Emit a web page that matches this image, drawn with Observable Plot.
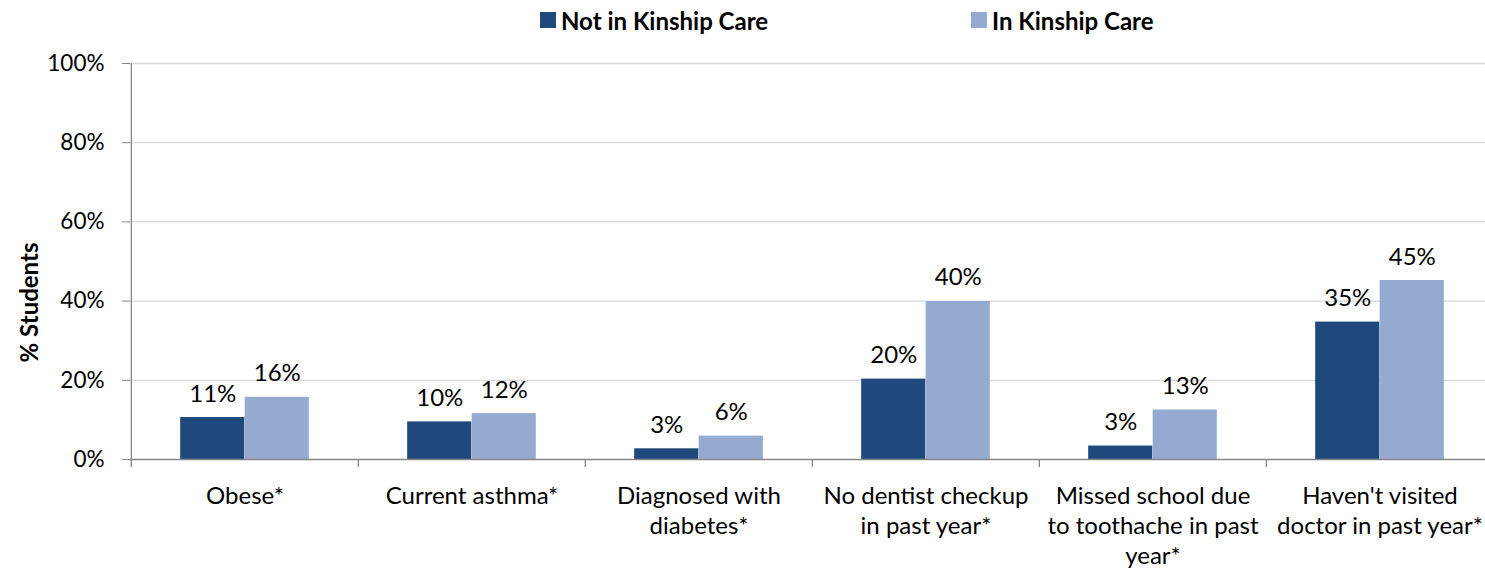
<!DOCTYPE html>
<html>
<head>
<meta charset="utf-8">
<script src="https://cdn.jsdelivr.net/npm/d3@7"></script>
<script src="https://cdn.jsdelivr.net/npm/@observablehq/plot@0.6"></script>
<style>
  html, body { margin: 0; padding: 0; background: #fff; }
  body { width: 1485px; height: 574px; overflow: hidden; font-family: Lato, "Open Sans", sans-serif; }
  #legend { position: relative; height: 40px; width: 1485px; font-weight: bold; font-size: 24px; color: #000; }
  .item { position: absolute; top: 0; height: 40px; display: flex; align-items: center; white-space: nowrap; }
  .sw { width: 16px; height: 16px; margin-right: 5px; display: inline-block; }
  #chart svg { display: block; overflow: visible; }
  g[aria-label^="y-axis"] line, g[aria-label^="y-axis"] path { stroke: #868686; }
</style>
</head>
<body>
<div id="legend"></div>
<div id="chart"></div>
<script>
// ---- data ----
const categories = [
  "Obese*",
  "Current asthma*",
  "Diagnosed with diabetes*",
  "No dentist checkup in past year*",
  "Missed school due to toothache in past year*",
  "Haven't visited doctor in past year*"
];
const tickLabels = [
  "Obese*",
  "Current asthma*",
  "Diagnosed with\ndiabetes*",
  "No dentist checkup\nin past year*",
  "Missed school due\nto toothache in past\nyear*",
  "Haven't visited\ndoctor in past year*"
];
const series = ["Not in Kinship Care", "In Kinship Care"];
const notInKinship = [10.6, 9.5, 2.7, 20.3, 3.4, 34.7];
const inKinship = [15.7, 11.6, 5.9, 39.9, 12.5, 45.2];
const notInLabels = ["11%", "10%", "3%", "20%", "3%", "35%"];
const inLabels = ["16%", "12%", "6%", "40%", "13%", "45%"];
const yTicks = [0, 20, 40, 60, 80, 100];
const colors = ["#1f497d", "#95aad1"];

// ---- table ----
const rows = [];
categories.forEach((c, i) => {
  rows.push({category: c, series: series[0], value: notInKinship[i], label: notInLabels[i]});
  rows.push({category: c, series: series[1], value: inKinship[i], label: inLabels[i]});
});

// ---- legend ----
const legend = document.getElementById("legend");
const legendLeft = [540, 971];
series.forEach((s, i) => {
  const it = document.createElement("div");
  it.className = "item";
  it.style.left = legendLeft[i] + "px";
  const sw = document.createElement("span");
  sw.className = "sw";
  sw.style.background = colors[i];
  it.appendChild(sw);
  it.appendChild(document.createTextNode(s));
  legend.appendChild(it);
});

// ---- layout ----
const W = 1485, H = 534;
const mL = 130, mR = -9, mT = 23, mB = 115;
const band = (W - mR - mL) / categories.length;
const barW = 64.5;
const outer = (band - 2 * barW) / 2;
const axisGray = "#868686";
const fs = 24;

const plot = Plot.plot({
  width: W,
  height: H,
  marginLeft: mL,
  marginRight: mR,
  marginTop: mT,
  marginBottom: mB,
  style: {fontFamily: "Lato, 'Open Sans', sans-serif", fontSize: "22.5px", color: "#000", background: "#fff", overflow: "visible"},
  x: {domain: categories, padding: 0, axis: null},
  y: {domain: [0, 100], ticks: yTicks, tickFormat: d => d + "%", tickSize: 8, tickPadding: 18, label: null},
  color: {domain: series, range: colors},
  marks: [
    Plot.ruleY(yTicks.filter(d => d > 0), {y: d => d, stroke: "#d9d9d9", strokeWidth: 1.3}),
    Plot.barY(rows.filter(d => d.series === series[0]), {x: "category", y: "value", fill: "series", insetLeft: outer, insetRight: band - outer - barW}),
    Plot.barY(rows.filter(d => d.series === series[1]), {x: "category", y: "value", fill: "series", insetLeft: outer + barW, insetRight: outer}),
    Plot.ruleY([0], {y: d => d, stroke: axisGray, strokeWidth: 1.3}),
    Plot.ruleX([categories[0]], {x: d => d, dx: -band / 2, stroke: axisGray, strokeWidth: 1.3}),
    Plot.ruleX(categories, {x: d => d, dx: -band / 2, stroke: axisGray, strokeWidth: 1.3, insetTop: H - mT - mB, insetBottom: -8}),
    Plot.text(rows.filter(d => d.series === series[0]), {x: "category", y: "value", text: "label", dx: -barW / 2, dy: -16, lineAnchor: "bottom", fill: "#000", fontSize: fs}),
    Plot.text(rows.filter(d => d.series === series[1]), {x: "category", y: "value", text: "label", dx: barW / 2, dy: -16, lineAnchor: "bottom", fill: "#000", fontSize: fs}),
    Plot.text(categories, {x: d => d, text: (d, i) => tickLabels[i], frameAnchor: "bottom", lineAnchor: "top", dy: 23, lineHeight: 1.25, fill: "#000", fontSize: fs}),
    Plot.text(["% Students"], {frameAnchor: "left", textAnchor: "middle", text: d => d, rotate: -90, dx: -100, dy: 41, fontWeight: "bold", fill: "#000", fontSize: fs})
  ]
});
document.getElementById("chart").appendChild(plot);
</script>
</body>
</html>
